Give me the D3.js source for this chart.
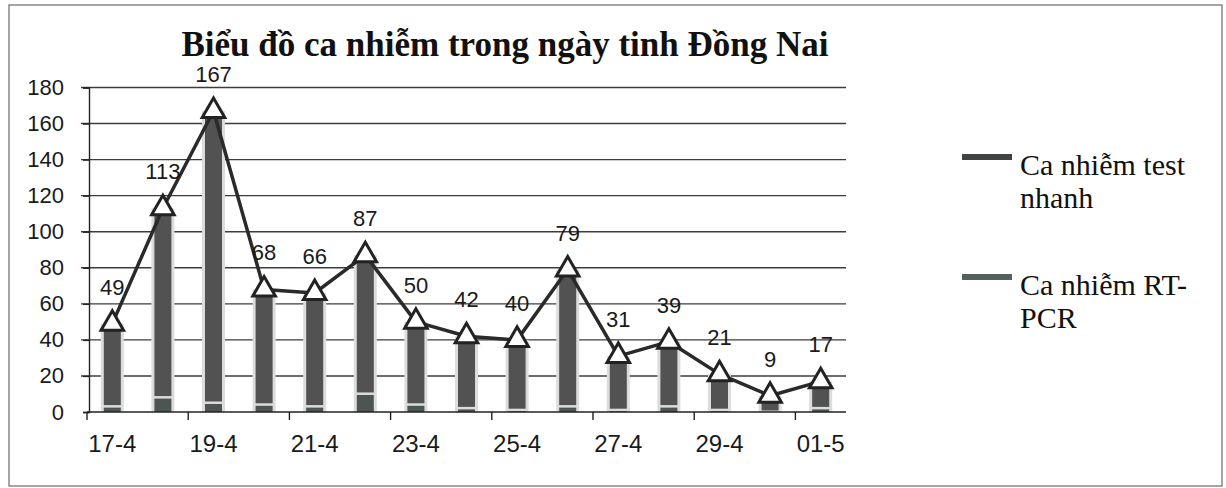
<!DOCTYPE html>
<html>
<head>
<meta charset="utf-8">
<script src="https://cdn.jsdelivr.net/npm/d3@7"></script>
<style>
  body { margin: 0; background: #fff; }
  svg { display: block; }
</style>
</head>
<body>
<div id="chart"></div>
<script>
// data
var days = ["17-4","18-4","19-4","20-4","21-4","22-4","23-4","24-4","25-4","26-4","27-4","28-4","29-4","30-4","01-5"];
var totals = [49,113,167,68,66,87,50,42,40,79,31,39,21,9,17];
var testNhanh = [3,8,5,4,3,10,4,2,1,3,1,3,1,0,2];
var rtPcr = [46,105,162,64,63,77,46,40,39,76,30,36,20,9,15];
var yTicks = [0,20,40,60,80,100,120,140,160,180];
var seriesNames = ["Ca nhiễm test nhanh", "Ca nhiễm RT-PCR"];

var W = 1226, H = 488;
var margin = {top: 87.5, left: 87, right: 380, bottom: 76};
var plotW = W - margin.left - margin.right,
    plotH = H - margin.top - margin.bottom;

var svg = d3.select('#chart').append('svg')
    .attr('width', W)
    .attr('height', H);

// outer frame
svg.append('rect')
    .attr('x', 9).attr('y', 5)
    .attr('width', 1213).attr('height', 481)
    .attr('fill', 'none')
    .attr('stroke', '#6a6a6a')
    .attr('stroke-width', 1.2);

// title
svg.append('text')
    .attr('x', 505).attr('y', 56)
    .attr('text-anchor', 'middle')
    .style('font-family', '"Liberation Serif", "Times New Roman", serif')
    .style('font-weight', 'bold')
    .style('font-size', '35px')
    .attr('fill', '#111')
    .text('Biểu đồ ca nhiễm trong ngày tinh Đồng Nai');

var g = svg.append('g')
    .attr('transform', 'translate(' + margin.left + ',' + margin.top + ')');

var x = d3.scaleBand()
    .domain(days)
    .range([0, plotW]);
var y = d3.scaleLinear()
    .domain([0, 180])
    .range([plotH, 0]);

//gridlines
g.selectAll('.grid').data(yTicks.slice(1))
  .enter().append('line')
    .attr('x1', -6).attr('x2', plotW)
    .attr('y1', function(d) {return y(d);})
    .attr('y2', function(d) {return y(d);})
    .attr('stroke', '#3c3c3c')
    .attr('stroke-width', 1.4);

// y axis
var yAxis = d3.axisLeft(y).tickValues(yTicks).tickSize(6).tickPadding(19);
var yG = g.append('g').attr('transform', 'translate(2,0)').call(yAxis);
yG.select('.domain').attr('stroke', '#222').attr('stroke-width', 1.4);
yG.selectAll('line').attr('stroke', '#222').attr('stroke-width', 1.4);
yG.selectAll('text')
    .style('font-family', '"Liberation Sans", Arial, sans-serif')
    .style('font-size', '22px')
    .attr('fill', '#1a1a1a');

// bars
var barW = 17;
var bars = g.selectAll('.bar').data(days)
  .enter().append('g')
    .attr('transform', function(d) {return 'translate(' + (x(d) + x.bandwidth() / 2) + ',0)';});

bars.append('rect')
    .attr('x', -barW / 2 - 3)
    .attr('width', barW + 6)
    .attr('y', function(d, i) {return y(totals[i]);})
    .attr('height', function(d, i) {return plotH - y(totals[i]);})
    .attr('fill', '#dcdcdc');

bars.append('rect')
    .attr('x', -barW / 2)
    .attr('width', barW)
    .attr('y', function(d, i) {return y(testNhanh[i]) + 1;})
    .attr('height', function(d, i) {return Math.max(0, plotH - y(testNhanh[i]) - 1);})
    .attr('fill', '#4c5552');

bars.append('rect')
    .attr('x', -barW / 2)
    .attr('width', barW)
    .attr('y', function(d, i) {return y(testNhanh[i] + rtPcr[i]);})
    .attr('height', function(d, i) {return Math.max(0, y(testNhanh[i]) - y(testNhanh[i] + rtPcr[i]) - 1.5);})
    .attr('fill', '#525252');

// x axis
var xAxis = g.append('g').attr('transform', 'translate(0,' + plotH + ')');
xAxis.append('line')
    .attr('x1', 0).attr('x2', plotW)
    .attr('stroke', '#222').attr('stroke-width', 1.6);
xAxis.selectAll('.tick').data(days.filter(function(d, i) {return i % 2 === 0;}))
  .enter().append('line')
    .attr('x1', function(d) {return x(d);})
    .attr('x2', function(d) {return x(d);})
    .attr('y1', 0).attr('y2', 8)
    .attr('stroke', '#222').attr('stroke-width', 1.4);
xAxis.selectAll('.lbl').data(days.filter(function(d, i) {return i % 2 === 0;}))
  .enter().append('text')
    .attr('x', function(d) {return x(d) + x.bandwidth() / 2;})
    .attr('y', 40)
    .attr('text-anchor', 'middle')
    .style('font-family', '"Liberation Sans", Arial, sans-serif')
    .style('font-size', '24px')
    .attr('fill', '#1a1a1a')
    .text(function(d) {return d;});

// total line
var line = d3.line()
    .x(function(d, i) {return x(days[i]) + x.bandwidth() / 2;})
    .y(function(d) {return y(d);});

g.append('path')
    .datum(totals)
    .attr('d', line)
    .attr('fill', 'none')
    .attr('stroke', '#2a2a2a')
    .attr('stroke-width', 3.5)
    .attr('stroke-linejoin', 'round');

g.selectAll('.marker').data(totals)
  .enter().append('path')
    .attr('d', d3.symbol().type(d3.symbolTriangle).size(220))
    .attr('transform', function(d, i) {return 'translate(' + (x(days[i]) + x.bandwidth() / 2) + ',' + y(d) + ')';})
    .attr('fill', '#fff')
    .attr('stroke', '#222')
    .attr('stroke-width', 3);

g.selectAll('.dlabel').data(totals)
  .enter().append('text')
    .attr('x', function(d, i) {return x(days[i]) + x.bandwidth() / 2;})
    .attr('y', function(d) {return y(d) - 29;})
    .attr('text-anchor', 'middle')
    .style('font-family', '"Liberation Sans", Arial, sans-serif')
    .style('font-size', '22px')
    .attr('fill', '#1a1a1a')
    .text(function(d) {return d;});

// legend
var legend = svg.append('g');
var legendColors = ['#3f4442', '#56605c'];
var legendLines = [["Ca nhiễm test", "nhanh"], ["Ca nhiễm RT-", "PCR"]];
var legendY = [175, 295];
legendLines.forEach(function(lines, i) {
  legend.append('rect')
      .attr('x', 962).attr('y', legendY[i] - 21)
      .attr('width', 50).attr('height', 6)
      .attr('fill', legendColors[i]);
  lines.forEach(function(s, k) {
    legend.append('text')
        .attr('x', 1020).attr('y', legendY[i] + k * 33)
        .style('font-family', '"Liberation Serif", "Times New Roman", serif')
        .style('font-size', '30px')
        .attr('fill', '#111')
        .text(s);
  });
});
</script>
</body>
</html>
